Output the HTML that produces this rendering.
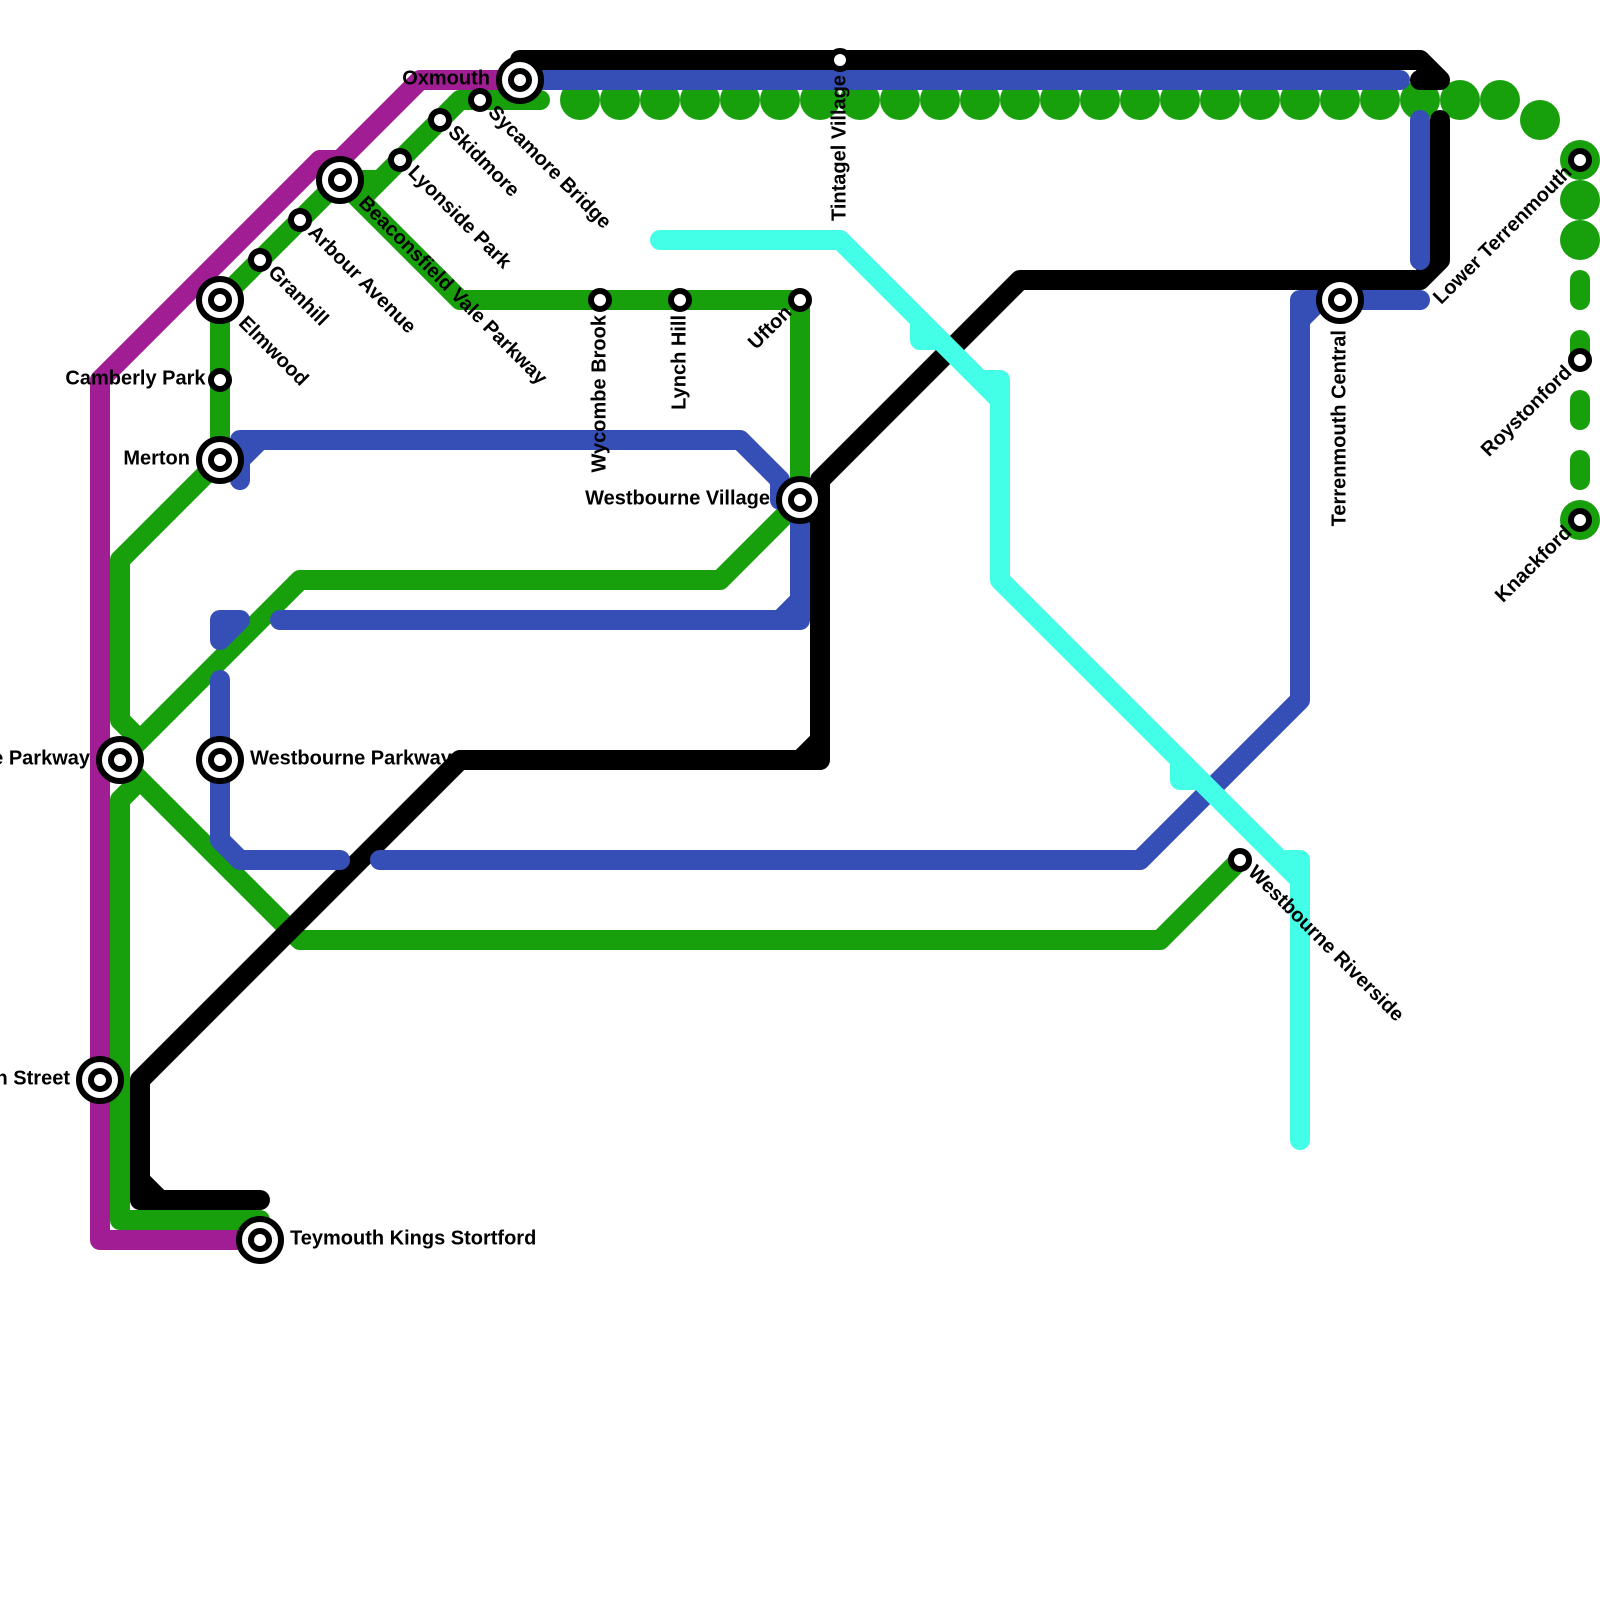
<!DOCTYPE html>
<html><head><meta charset="utf-8"><style>
html,body{margin:0;padding:0;background:#fff}
svg{display:block}
.l path{fill:none;stroke-width:20;stroke-linecap:round;stroke-linejoin:round}
text{font-family:"Liberation Sans",sans-serif;font-weight:700;font-size:20px;fill:#000}
.s circle{fill:#fff;stroke:#000;stroke-width:6}
</style></head><body>
<svg width="1600" height="1600" viewBox="0 0 1600 1600" xmlns="http://www.w3.org/2000/svg">
<rect width="1600" height="1600" fill="#fff"/>
<g class="l">
<path stroke="#a11d94" d="M260 1240H100V380L320 160H340L420 80H520"/>
<g fill="#18a00c">
<circle cx="580" cy="100" r="20"/><circle cx="620" cy="100" r="20"/><circle cx="660" cy="100" r="20"/><circle cx="700" cy="100" r="20"/><circle cx="740" cy="100" r="20"/><circle cx="780" cy="100" r="20"/><circle cx="820" cy="100" r="20"/><circle cx="860" cy="100" r="20"/><circle cx="900" cy="100" r="20"/><circle cx="940" cy="100" r="20"/><circle cx="980" cy="100" r="20"/><circle cx="1020" cy="100" r="20"/><circle cx="1060" cy="100" r="20"/><circle cx="1100" cy="100" r="20"/><circle cx="1140" cy="100" r="20"/><circle cx="1180" cy="100" r="20"/><circle cx="1220" cy="100" r="20"/><circle cx="1260" cy="100" r="20"/><circle cx="1300" cy="100" r="20"/><circle cx="1340" cy="100" r="20"/><circle cx="1380" cy="100" r="20"/><circle cx="1420" cy="100" r="20"/><circle cx="1460" cy="100" r="20"/><circle cx="1500" cy="100" r="20"/><circle cx="1540" cy="120" r="20"/><circle cx="1580" cy="160" r="20"/><circle cx="1580" cy="200" r="20"/><circle cx="1580" cy="240" r="20"/><circle cx="1580" cy="520" r="20"/>
</g>
<path stroke="#18a00c" d="M1580 280V300M1580 340V360M1580 400V420M1580 460V480"/>
<path stroke="#18a00c" d="M540 100H460L360 200M380 180H340L220 300V460L120 560V720L140 740L120 760M120 760L300 580H720L800 500V300H460L340 180M120 760L300 940H1160L1240 860M120 760L140 780L120 800V1220H260"/>
<path stroke="#000" d="M140 1180L160 1200H260M140 1200H160M820 480V760H460L140 1080V1200H160M800 760L820 740M1440 120V260L1420 280H1020L820 480M520 60H1420L1440 80H1420"/>
<path stroke="#354fb6" d="M240 480V440H740L780 480V500H800M240 460L260 440M280 620H800V500M780 620L800 600M240 620H220V640L240 620M220 680V840L240 860H340M380 860H1140L1300 700V300H1420M1300 320L1320 300M520 80H1400M1420 120V260"/>
<path stroke="#43ffe7" d="M660 240H840L1000 400M920 320V340H940M980 380H1000V580L1300 880M1180 760V780H1200M1280 860H1300V1140"/>
</g>
<text x="490" y="84.500" text-anchor="end">Oxmouth</text>
<text x="205.500" y="384.500" text-anchor="end">Camberly Park</text>
<text x="190" y="464.500" text-anchor="end">Merton</text>
<text x="770" y="504.500" text-anchor="end">Westbourne Village</text>
<text x="90" y="764.500" text-anchor="end">Elmstone Parkway</text>
<text x="250" y="764.500">Westbourne Parkway</text>
<text x="70" y="1084.500" text-anchor="end">Merton Street</text>
<text x="290" y="1244.500">Teymouth Kings Stortford</text>
<text transform="rotate(45 480 100)" x="494.500" y="104.500">Sycamore Bridge</text>
<text transform="rotate(45 440 120)" x="454.500" y="124.500">Skidmore</text>
<text transform="rotate(45 400 160)" x="414.500" y="164.500">Lyonside Park</text>
<text transform="rotate(45 340 180)" x="369.500" y="184.500">Beaconsfield Vale Parkway</text>
<text transform="rotate(45 300 220)" x="314.500" y="224.500">Arbour Avenue</text>
<text transform="rotate(45 260 260)" x="274.500" y="264.500">Granhill</text>
<text transform="rotate(45 220 300)" x="249.500" y="304.500">Elmwood</text>
<text transform="rotate(45 1240 860)" x="1254.500" y="864.500">Westbourne Riverside</text>
<text transform="rotate(-45 800 300)" x="785.500" y="304.500" text-anchor="end">Ufton</text>
<text transform="rotate(-45 1580 160)" x="1565.500" y="164.500" text-anchor="end">Lower Terrenmouth</text>
<text transform="rotate(-45 1580 360)" x="1565.500" y="364.500" text-anchor="end">Roystonford</text>
<text transform="rotate(-45 1580 520)" x="1565.500" y="524.500" text-anchor="end">Knackford</text>
<text transform="rotate(-90 600 300)" x="585" y="305.500" text-anchor="end">Wycombe Brook</text>
<text transform="rotate(-90 680 300)" x="665" y="305.500" text-anchor="end">Lynch Hill</text>
<text transform="rotate(-90 840 60)" x="825" y="65.500" text-anchor="end">Tintagel Village</text>
<text transform="rotate(-90 1340 300)" x="1310" y="305.500" text-anchor="end">Terrenmouth Central</text>
<g class="s">
<circle cx="520" cy="80" r="21"/><circle cx="520" cy="80" r="9"/>
<circle cx="340" cy="180" r="21"/><circle cx="340" cy="180" r="9"/>
<circle cx="220" cy="300" r="21"/><circle cx="220" cy="300" r="9"/>
<circle cx="220" cy="460" r="21"/><circle cx="220" cy="460" r="9"/>
<circle cx="800" cy="500" r="21"/><circle cx="800" cy="500" r="9"/>
<circle cx="120" cy="760" r="21"/><circle cx="120" cy="760" r="9"/>
<circle cx="220" cy="760" r="21"/><circle cx="220" cy="760" r="9"/>
<circle cx="100" cy="1080" r="21"/><circle cx="100" cy="1080" r="9"/>
<circle cx="260" cy="1240" r="21"/><circle cx="260" cy="1240" r="9"/>
<circle cx="1340" cy="300" r="21"/><circle cx="1340" cy="300" r="9"/>
<circle cx="480" cy="100" r="9"/><circle cx="440" cy="120" r="9"/><circle cx="400" cy="160" r="9"/><circle cx="300" cy="220" r="9"/><circle cx="260" cy="260" r="9"/><circle cx="220" cy="380" r="9"/><circle cx="600" cy="300" r="9"/><circle cx="680" cy="300" r="9"/><circle cx="800" cy="300" r="9"/><circle cx="840" cy="60" r="9"/><circle cx="1240" cy="860" r="9"/><circle cx="1580" cy="160" r="9"/><circle cx="1580" cy="360" r="9"/><circle cx="1580" cy="520" r="9"/>
</g>
</svg>
</body></html>
